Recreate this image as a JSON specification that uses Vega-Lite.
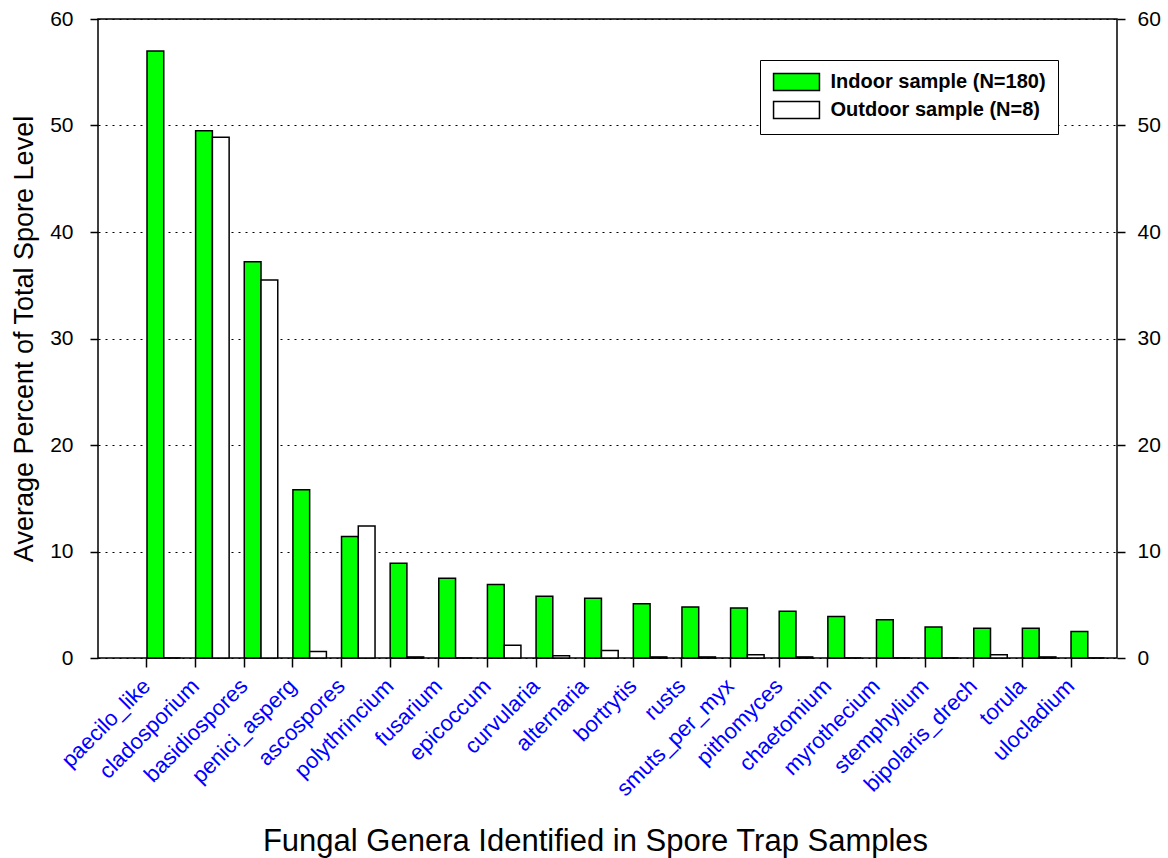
{
  "$schema": "https://vega.github.io/schema/vega-lite/v6.json",
  "autosize": {"type": "none"},
  "padding": {"left": 98, "top": 19, "right": 51, "bottom": 200},
  "width": 1019,
  "height": 639,
  "background": "white",
  "config": {
    "font": "Liberation Sans",
    "view": {"stroke": "black", "strokeWidth": 1.5}
  },
  "data": {
    "values": [
      {"genus": "paecilo_like", "sample": "Indoor sample (N=180)", "pct": 57.0},
      {"genus": "paecilo_like", "sample": "Outdoor sample (N=8)", "pct": 0},
      {"genus": "cladosporium", "sample": "Indoor sample (N=180)", "pct": 49.5},
      {"genus": "cladosporium", "sample": "Outdoor sample (N=8)", "pct": 48.9},
      {"genus": "basidiospores", "sample": "Indoor sample (N=180)", "pct": 37.2},
      {"genus": "basidiospores", "sample": "Outdoor sample (N=8)", "pct": 35.5},
      {"genus": "penici_asperg", "sample": "Indoor sample (N=180)", "pct": 15.8},
      {"genus": "penici_asperg", "sample": "Outdoor sample (N=8)", "pct": 0.6},
      {"genus": "ascospores", "sample": "Indoor sample (N=180)", "pct": 11.4},
      {"genus": "ascospores", "sample": "Outdoor sample (N=8)", "pct": 12.4},
      {"genus": "polythrincium", "sample": "Indoor sample (N=180)", "pct": 8.9},
      {"genus": "polythrincium", "sample": "Outdoor sample (N=8)", "pct": 0.1},
      {"genus": "fusarium", "sample": "Indoor sample (N=180)", "pct": 7.5},
      {"genus": "fusarium", "sample": "Outdoor sample (N=8)", "pct": 0},
      {"genus": "epicoccum", "sample": "Indoor sample (N=180)", "pct": 6.9},
      {"genus": "epicoccum", "sample": "Outdoor sample (N=8)", "pct": 1.2},
      {"genus": "curvularia", "sample": "Indoor sample (N=180)", "pct": 5.8},
      {"genus": "curvularia", "sample": "Outdoor sample (N=8)", "pct": 0.2},
      {"genus": "alternaria", "sample": "Indoor sample (N=180)", "pct": 5.6},
      {"genus": "alternaria", "sample": "Outdoor sample (N=8)", "pct": 0.7},
      {"genus": "bortrytis", "sample": "Indoor sample (N=180)", "pct": 5.1},
      {"genus": "bortrytis", "sample": "Outdoor sample (N=8)", "pct": 0.1},
      {"genus": "rusts", "sample": "Indoor sample (N=180)", "pct": 4.8},
      {"genus": "rusts", "sample": "Outdoor sample (N=8)", "pct": 0.1},
      {"genus": "smuts_per_myx", "sample": "Indoor sample (N=180)", "pct": 4.7},
      {"genus": "smuts_per_myx", "sample": "Outdoor sample (N=8)", "pct": 0.3},
      {"genus": "pithomyces", "sample": "Indoor sample (N=180)", "pct": 4.4},
      {"genus": "pithomyces", "sample": "Outdoor sample (N=8)", "pct": 0.1},
      {"genus": "chaetomium", "sample": "Indoor sample (N=180)", "pct": 3.9},
      {"genus": "chaetomium", "sample": "Outdoor sample (N=8)", "pct": 0},
      {"genus": "myrothecium", "sample": "Indoor sample (N=180)", "pct": 3.6},
      {"genus": "myrothecium", "sample": "Outdoor sample (N=8)", "pct": 0},
      {"genus": "stemphylium", "sample": "Indoor sample (N=180)", "pct": 2.9},
      {"genus": "stemphylium", "sample": "Outdoor sample (N=8)", "pct": 0},
      {"genus": "bipolaris_drech", "sample": "Indoor sample (N=180)", "pct": 2.8},
      {"genus": "bipolaris_drech", "sample": "Outdoor sample (N=8)", "pct": 0.3},
      {"genus": "torula", "sample": "Indoor sample (N=180)", "pct": 2.8},
      {"genus": "torula", "sample": "Outdoor sample (N=8)", "pct": 0.1},
      {"genus": "ulocladium", "sample": "Indoor sample (N=180)", "pct": 2.5},
      {"genus": "ulocladium", "sample": "Outdoor sample (N=8)", "pct": 0}
    ]
  },
  "encoding": {
    "x": {
      "field": "genus",
      "type": "nominal",
      "sort": null,
      "scale": {"paddingInner": 0.311, "paddingOuter": 0.632, "align": 0.797},
      "axis": {
        "orient": "bottom",
        "bandPosition": 0,
        "domain": false,
        "ticks": true,
        "tickSize": 9,
        "tickWidth": 1.5,
        "tickColor": "black",
        "labelAngle": -45,
        "labelAlign": "right",
        "labelBaseline": "top",
        "labelFontSize": 22,
        "labelColor": "#0000FF",
        "labelPadding": 8,
        "labelOffset": -24,
        "labelLimit": 400,
        "title": "Fungal Genera Identified in Spore Trap Samples",
        "titleFontSize": 31,
        "titleFontWeight": "normal",
        "titleColor": "black",
        "titleX": 497,
        "titleY": 192,
        "titleAlign": "center",
        "titleBaseline": "alphabetic"
      }
    },
    "xOffset": {
      "field": "sample",
      "type": "nominal",
      "scale": {"domain": ["Indoor sample (N=180)", "Outdoor sample (N=8)"], "paddingInner": 0, "paddingOuter": 0}
    }
  },
  "layer": [
    {
      "mark": {"type": "bar", "stroke": "black", "strokeWidth": 1.5},
      "encoding": {
        "y": {
          "field": "pct",
          "type": "quantitative",
          "scale": {"domain": [0, 60], "nice": false, "zero": true},
          "axis": {
            "orient": "left",
            "values": [0, 10, 20, 30, 40, 50, 60],
            "domain": false,
            "tickSize": 8,
            "tickWidth": 1.5,
            "tickColor": "black",
            "labelFontSize": 21,
            "labelColor": "black",
            "labelPadding": 17,
            "grid": true,
            "gridColor": "black",
            "gridDash": [2, 5],
            "gridWidth": 1,
            "title": "Average Percent of Total Spore Level",
            "titleFontSize": 27,
            "titleFontWeight": "normal",
            "titleColor": "black",
            "titleAngle": -90,
            "titleX": -66,
            "titleY": 319.5,
            "titleAlign": "center",
            "titleBaseline": "alphabetic"
          }
        },
        "fill": {
          "field": "sample",
          "type": "nominal",
          "scale": {"domain": ["Indoor sample (N=180)", "Outdoor sample (N=8)"], "range": ["#00FF00", "#FFFFFF"]},
          "legend": {
            "orient": "none",
            "legendX": 662,
            "legendY": 41,
            "title": null,
            "strokeColor": "black",
            "fillColor": "white",
            "padding": 12,
            "rowPadding": 4,
            "labelFontSize": 20,
            "labelFontWeight": "bold",
            "labelColor": "black",
            "labelLimit": 400,
            "labelOffset": 24,
            "symbolType": "M-2.7,-1H2.7V1H-2.7Z",
            "symbolSize": 289,
            "symbolOffset": 14.5,
            "symbolStrokeColor": "black",
            "symbolStrokeWidth": 1.5,
            "symbolOpacity": 1
          }
        }
      }
    },
    {
      "mark": {"type": "bar", "opacity": 0},
      "encoding": {
        "y": {
          "field": "pct",
          "type": "quantitative",
          "axis": {
            "orient": "right",
            "values": [0, 10, 20, 30, 40, 50, 60],
            "domain": false,
            "tickSize": 8,
            "tickWidth": 1.5,
            "tickColor": "black",
            "labelFontSize": 21,
            "labelColor": "black",
            "labelPadding": 12,
            "grid": false,
            "title": null
          }
        }
      }
    }
  ],
  "resolve": {"axis": {"y": "independent"}}
}
